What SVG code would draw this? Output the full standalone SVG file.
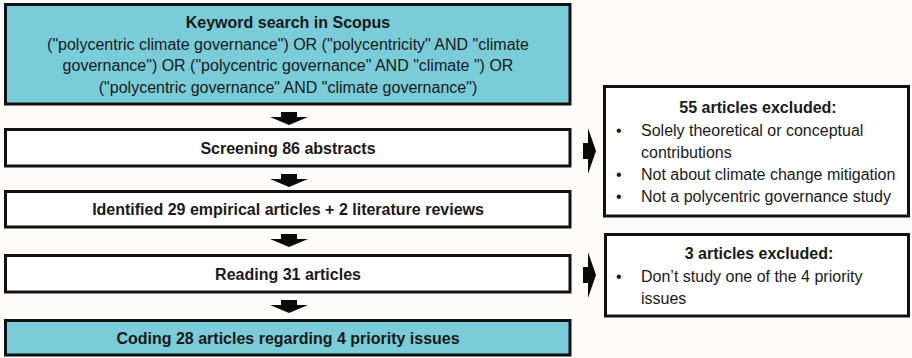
<svg xmlns="http://www.w3.org/2000/svg" xmlns:xlink="http://www.w3.org/1999/xlink" width="912" height="358" viewBox="0 0 912 358">
  <style>
    .box { fill: #FFFFFF; stroke: #111111; stroke-width: 3; }
    .teal { fill: #79CCD8; }
    .t { font-family: "Liberation Sans", Arial, sans-serif; font-size: 16px; fill: #1A1A1A; }
    .b { font-weight: bold; }
    .c { text-anchor: middle; }
    .arrow { fill: #0A0A0A; }
  </style>
  <defs>
    <path id="down" d="M -8 0 H 8 V 5 H 19 L 0 13 L -19 5 H -8 Z"/>
    <path id="right" d="M 0 -8 H 5 V -23 L 13 0 L 5 23 V 8 H 0 Z"/>
  </defs>
  <rect x="0" y="0" width="912" height="358" fill="#FDFCFA"/>

  <g id="keyword-search">
    <rect class="box teal" x="5.5" y="4.5" width="564.5" height="99.5"/>
    <text class="t b c" x="288" y="28">Keyword search in Scopus</text>
    <text class="t c" x="288" y="49.5">("polycentric climate governance") OR ("polycentricity" AND "climate</text>
    <text class="t c" x="288" y="71">governance") OR ("polycentric governance" AND "climate ") OR</text>
    <text class="t c" x="288" y="92.5">("polycentric governance" AND "climate governance")</text>
  </g>

  <g id="screening">
    <rect class="box" x="5.5" y="129.5" width="564.5" height="36.5"/>
    <text class="t b c" x="288" y="153.5">Screening 86 abstracts</text>
  </g>

  <g id="identified">
    <rect class="box" x="5.5" y="191.5" width="564.5" height="35.5"/>
    <text class="t b c" x="288" y="215">Identified 29 empirical articles + 2 literature reviews</text>
  </g>

  <g id="reading">
    <rect class="box" x="5.5" y="255.5" width="564.5" height="36.5"/>
    <text class="t b c" x="288" y="279.5">Reading 31 articles</text>
  </g>

  <g id="coding">
    <rect class="box teal" x="5.5" y="320.5" width="564.5" height="34.5"/>
    <text class="t b c" x="288" y="343.5">Coding 28 articles regarding 4 priority issues</text>
  </g>

  <g id="excluded-55">
    <rect class="box" x="604.5" y="86.5" width="304" height="129.5"/>
    <text class="t b c" x="758" y="113">55 articles excluded:</text>
    <text class="t" x="616" y="136">•</text>
    <text class="t" x="641" y="136">Solely theoretical or conceptual</text>
    <text class="t" x="641" y="158">contributions</text>
    <text class="t" x="616" y="180">•</text>
    <text class="t" x="641" y="180">Not about climate change mitigation</text>
    <text class="t" x="616" y="202">•</text>
    <text class="t" x="641" y="202">Not a polycentric governance study</text>
  </g>

  <g id="excluded-3">
    <rect class="box" x="605.5" y="234.5" width="303" height="81.5"/>
    <text class="t b c" x="759" y="259">3 articles excluded:</text>
    <text class="t" x="616" y="282">•</text>
    <text class="t" x="641" y="282">Don’t study one of the 4 priority</text>
    <text class="t" x="641" y="304">issues</text>
  </g>

  <g id="connectors">
    <use class="arrow" xlink:href="#down" x="289" y="112"/>
    <use class="arrow" xlink:href="#down" x="289" y="174"/>
    <use class="arrow" xlink:href="#down" x="289" y="234"/>
    <use class="arrow" xlink:href="#down" x="289" y="300"/>
    <use class="arrow" xlink:href="#right" x="583" y="151"/>
    <use class="arrow" xlink:href="#right" x="583" y="275"/>
  </g>
</svg>
